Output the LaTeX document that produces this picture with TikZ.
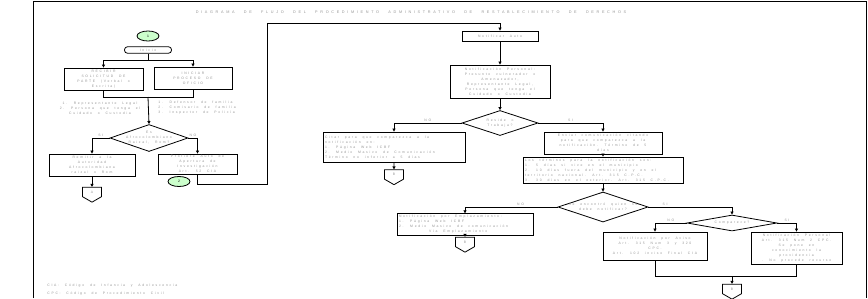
\documentclass[tikz,border=0pt]{standalone}
\usepackage{fontspec}
\setmainfont{Liberation Sans}[LetterSpace=50, WordSpace=2.2]
\newfontfamily\titlefont{Liberation Sans}[LetterSpace=70, WordSpace=2.5]
\usetikzlibrary{shapes.geometric, shapes.symbols, arrows.meta}
\definecolor{txtgray}{RGB}{150,150,150}
\definecolor{connfill}{RGB}{204,255,204}
\newcommand{\boxfont}{\fontsize{3.4}{5}\selectfont}

\begin{document}
\begin{tikzpicture}[x=1pt, y=-1pt, line width=0.8pt,
        box/.style={draw, inner sep=1pt, align=center, font=\boxfont, text=txtgray},
        boxl/.style={draw, inner sep=0pt},
        boxtext/.style={inner sep=0pt, align=left, font=\boxfont, text=txtgray, anchor=west, xshift=2pt},
        dec/.style={draw, diamond, inner sep=0pt},
        dectext/.style={inner sep=0pt, align=center, font=\boxfont, text=txtgray},
        term/.style={draw, rounded corners=3pt, minimum width=47pt, minimum height=6.5pt, inner sep=0.5pt, font=\boxfont, text=txtgray},
        conn/.style={draw, ellipse, fill=connfill, minimum width=22pt, minimum height=10pt, inner sep=0pt, font=\boxfont},
        offp/.style={draw, signal, signal to=south, signal from=nowhere, signal pointer angle=120,
            minimum width=19pt, minimum height=10pt, inner sep=0pt, font=\boxfont, text=txtgray},
        note/.style={inner sep=0pt, align=center, font=\boxfont, text=txtgray},
        lbl/.style={inner sep=1pt, font=\boxfont, text=txtgray},
        ttl/.style={inner sep=0pt, font=\titlefont\fontsize{3.8}{4.5}\selectfont, text=txtgray},
        arr/.style={-{Triangle[width=3pt,length=3pt]}}]
    \useasboundingbox (0,0) rectangle (868,298);
    % frame and title
    \draw (33,298) -- (33,1) -- (866,1) -- (866,298);
    \node[ttl] (titulo) at (411,12) {DIAGRAMA DE FLUJO DEL PROCEDIMIENTO ADMINISTRATIVO DE RESTABLECIMIENTO DE DERECHOS};
    % left column
    \node[conn] (c1) at (148,36) {1};
    \node[term] (inicio) at (148,50) {Inicio};
    \node[box, minimum width=79pt, minimum height=22pt] (recibir) at (103.5,79)
        {RECIBIR\\SOLICITUD DE\\PARTE (Verbal o\\Escrita)};
    \node[box, minimum width=78pt, minimum height=22pt] (oficio) at (193,78)
        {INICIAR\\PROCESO DE\\OFICIO};
    \node[note] (quien1) at (100,108)
        {1. Representante Legal\\2. Persona que tenga el\\Cuidado o Custodia};
    \node[note, align=left, anchor=west] (quien2) at (158,108)
        {1. Defensor de familia\\2. Comisario de familia\\3. Inspector de Policía};
    \node[dec, minimum width=78pt, minimum height=27pt,
        label={[dectext]center:{Es\\Afrocolombiano\\Raizal, Rom?}}] (etnia) at (149,138) {};
    \node[box, minimum width=86pt, minimum height=22pt] (remitir) at (92,165)
        {Remitir a la\\Autoridad\\Afrocolombiana\\raizal o Rom};
    \node[box, minimum width=79pt, minimum height=20pt] (auto) at (197.5,164)
        {Profiere Auto de\\Apertura de\\Investigación\\Art. 52 CIA};
    \node[conn] (c2) at (179,181.5) {2};
    \node[offp] (offA) at (92,192) {A};
    % right part
    \node[box, minimum width=76pt, minimum height=10pt] (notificar) at (500,36) {Notificar Auto};
    \node[box, minimum width=100pt, minimum height=33pt] (personal) at (500,81.5)
        {Notificación Personal:\\Presunto vulnerador o\\Amenazador,\\Representante Legal,\\Persona que tenga el\\Cuidado o Custodia};
    \node[dec, minimum width=76pt, minimum height=25pt,
        label={[dectext]center:{Reside o\\Trabaja?}}] (reside) at (500,123) {};
    \node[boxl, minimum width=142pt, minimum height=30pt,
        label={[boxtext]west:{Citar para que comparezca a la\\notificación en:\\1. Página Web ICBF\\2. Medio Masivo de Comunicación\\Término no inferior a 5 días}}] (citar) at (394,147) {};
    \node[offp] (offB1) at (394,174.5) {B};
    \node[box, minimum width=118pt, minimum height=22pt] (enviar) at (603,143)
        {Enviar comunicación citando\\para que comparezca a la\\notificación. Término de 5\\días};
    \node[boxl, minimum width=160pt, minimum height=26pt,
        label={[boxtext]west:{Los términos para la notificación son:\\1. 5 días si vive en el municipio\\2. 10 días fuera del municipio y en el\\territorio nacional. Art. 315 C.P.C.\\3. 30 días en el exterior. Art. 315 C.P.C.}}] (terminos) at (603,170) {};
    \node[dec, minimum width=90pt, minimum height=30pt,
        label={[dectext]center:{Se encontró quien se\\debe notificar?}}] (encontro) at (603,207) {};
    \node[boxl, minimum width=136pt, minimum height=21.5pt,
        label={[boxtext]west:{Notificación por Emplazamiento:\\1. Página Web ICBF\\2. Medio Masivo de comunicación\\\hspace*{30pt}Vía Emplazamiento}}] (emplaza) at (465,224.5) {};
    \node[offp] (offB2) at (465,242) {B};
    \node[dec, minimum width=90pt, minimum height=16pt,
        label={[dectext]center:{Comparece?}}] (comparece) at (732,223) {};
    \node[box, minimum width=104pt, minimum height=28pt] (aviso) at (655,246)
        {Notificación por Aviso\\Art. 315 Num 3 y 320\\CPC.\\Art. 102 inciso Final CIA};
    \node[box, minimum width=91pt, minimum height=32pt] (npersonal) at (796.5,248)
        {Notificación Personal\\Art. 315 Num 2 CPC.\\Se pone en\\conocimiento la\\providencia\\. No procede recurso};
    \node[offp] (offB3) at (732,289) {B};
    % footnotes
    \node[note, anchor=west] (cia) at (47,286) {CIA: Código de Infancia y Adolescencia};
    \node[note, anchor=west] (cpc) at (47,294) {CPC: Código de Procedimiento Civil};
    % connectors
    \coordinate (j1) at (148,60);
    \coordinate (j2) at (148,97);
    \coordinate (r1) at (267,184);
    \coordinate (r2) at (267,23);
    \coordinate (j3) at (732,276);
    \draw (inicio) -- (j1);
    \draw[arr] (j1) -| (recibir.north);
    \draw[arr] (j1) -| (oficio.north);
    \draw (recibir.south) |- (j2);
    \draw (oficio.south) |- (j2);
    \draw[arr] (j2) -- (etnia.north);
    \draw[arr] (etnia.west) -| node[lbl, pos=0.25, above] {SI} (remitir.north);
    \draw[arr] (etnia.east) -| node[lbl, pos=0.25, above] {NO} (auto.north);
    \draw[arr] (remitir.south) -- (offA.north);
    \draw[arr] (auto.south) |- (r1) -- (r2) -| (notificar.north);
    \draw[arr] (notificar) -- (personal);
    \draw[arr] (personal) -- (reside);
    \draw[arr] (reside.west) -| node[lbl, pos=0.25, above] {NO} (citar.north);
    \draw[arr] (reside.east) -| node[lbl, pos=0.25, above] {SI} (enviar.north);
    \draw[arr] (citar) -- (offB1);
    \draw[arr] (enviar) -- (terminos);
    \draw[arr] (terminos) -- (encontro);
    \draw[arr] (encontro.west) -| node[lbl, pos=0.2, above] {NO} (emplaza.north);
    \draw[arr] (encontro.east) -| node[lbl, pos=0.1, above] {SI} (comparece.north);
    \draw[arr] (emplaza) -- (offB2);
    \draw[arr] (comparece.west) -| node[lbl, pos=0.25, above] {NO} (aviso.north);
    \draw[arr] (comparece.east) -| node[lbl, pos=0.25, above] {SI} (npersonal.north);
    \draw (aviso.south) |- (j3);
    \draw (npersonal.south) |- (j3);
    \draw[arr] (j3) -- (offB3);
\end{tikzpicture}
\end{document}
